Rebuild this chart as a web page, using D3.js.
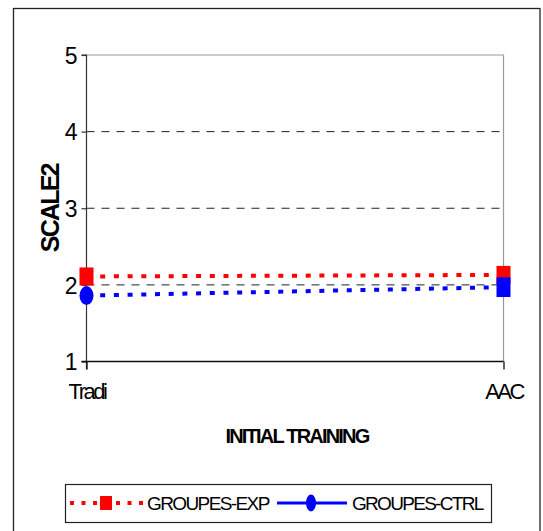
<!DOCTYPE html>
<html>
<head>
<meta charset="utf-8">
<script src="https://cdn.jsdelivr.net/npm/d3@7/dist/d3.min.js"></script>
<style>
  html, body { margin: 0; padding: 0; background: #fff; }
  svg { display: block; font-family: "Liberation Sans", Arial, sans-serif; }
</style>
</head>
<body>
<svg id="chart" width="543" height="531"></svg>
<script>
// Training type categories and mean SCALE2 scores per group
const categories = ["Tradi", "AAC"];
const groupesExp = [2.11, 2.13];
const groupesCtrl = [1.86, 1.97];
const ctrlMarkers = ["ellipse", "rect"];
const yTicks = [1, 2, 3, 4, 5];
const seriesNames = ["GROUPES-EXP", "GROUPES-CTRL"];

const svg = d3.select("#chart");

// outer frame
svg.append("rect")
  .attr("x", 13.5).attr("y", 8.5)
  .attr("width", 526.5).attr("height", 530)
  .attr("fill", "none").attr("stroke", "#222").attr("stroke-width", 1.3);

const plot = { left: 86.5, right: 503.5, top: 55, bottom: 361.5 };

const x = d3.scalePoint().domain(categories).range([plot.left, plot.right]);
const y = d3.scaleLinear().domain([1, 5]).range([plot.bottom, plot.top]);

// dashed gridlines
svg.append("g")
  .selectAll("line")
  .data(yTicks.filter(t => t > 1 && t < 5))
  .join("line")
  .attr("x1", plot.left).attr("x2", plot.right)
  .attr("y1", d => y(d)).attr("y2", d => y(d))
  .attr("stroke", "#222").attr("stroke-width", 1)
  .attr("stroke-dasharray", "8,7");

// top and right frame of the plot area
svg.append("path")
  .attr("d", `M${plot.left},${y(5)}H${plot.right}V${plot.bottom}`)
  .attr("fill", "none").attr("stroke", "#999").attr("stroke-width", 1.2);

// y axis
const yAxis = svg.append("g")
  .attr("transform", `translate(${plot.left},0)`)
  .call(d3.axisLeft(y).tickValues(yTicks).tickSize(5).tickPadding(4).tickFormat(d3.format("d")));
yAxis.select(".domain").attr("stroke", "#333").attr("stroke-width", 1.2)
  .attr("d", `M-5,${y(5)}H0V${plot.bottom + 8}`);
yAxis.selectAll(".tick line").attr("stroke", "#333").attr("stroke-width", 1.2);
yAxis.selectAll(".tick text")
  .attr("fill", "#000").attr("font-size", 23)
  .attr("font-family", "Liberation Sans, Arial, sans-serif")
  .attr("dy", "0.36em");

// x axis
const xAxis = svg.append("g")
  .attr("transform", `translate(0,${plot.bottom})`)
  .call(d3.axisBottom(x).tickSize(8).tickPadding(14));
xAxis.select(".domain").attr("stroke", "#111").attr("stroke-width", 1.3)
  .attr("d", `M${plot.left - 5},0H${plot.right}`);
xAxis.selectAll(".tick line").attr("stroke", "#111").attr("stroke-width", 1.3);
xAxis.selectAll(".tick text")
  .attr("fill", "#000").attr("font-size", 22)
  .attr("font-family", "Liberation Sans, Arial, sans-serif")
  .attr("letter-spacing", "-2.5px");

// axis titles
svg.append("text")
  .attr("transform", `translate(59,${(plot.top + plot.bottom) / 2}) rotate(-90)`)
  .attr("text-anchor", "middle")
  .attr("font-size", 25).attr("font-weight", "bold")
  .attr("letter-spacing", "-1.8px")
  .text("SCALE2");

svg.append("text")
  .attr("x", 297).attr("y", 443)
  .attr("text-anchor", "middle")
  .attr("font-size", 20).attr("font-weight", "bold")
  .attr("letter-spacing", "-1.8px")
  .text("INITIAL TRAINING");

// series lines
const line = d3.line().x((d, i) => x(categories[i])).y(d => y(d));

svg.append("path").datum(groupesExp)
  .attr("d", line)
  .attr("fill", "none").attr("stroke", "#ff0000").attr("stroke-width", 4)
  .attr("stroke-dasharray", "5,8.7");

svg.append("path").datum(groupesCtrl)
  .attr("d", line)
  .attr("fill", "none").attr("stroke", "#0000ff").attr("stroke-width", 4)
  .attr("stroke-dasharray", "5,8.7");

// markers
svg.append("g").selectAll("rect")
  .data(groupesExp)
  .join("rect")
  .attr("x", (d, i) => x(categories[i]) - 7)
  .attr("y", d => y(d) - 9)
  .attr("width", 14).attr("height", 18)
  .attr("fill", "#ff0000");

const ctrlG = svg.append("g");
groupesCtrl.forEach((d, i) => {
  if (ctrlMarkers[i] === "ellipse") {
    ctrlG.append("ellipse")
      .attr("cx", x(categories[i])).attr("cy", y(d))
      .attr("rx", 7).attr("ry", 9.5)
      .attr("fill", "#0000ff");
  } else {
    ctrlG.append("rect")
      .attr("x", x(categories[i]) - 7).attr("y", y(d) - 9.8)
      .attr("width", 14).attr("height", 19.6)
      .attr("fill", "#0000ff");
  }
});

// legend
const legend = svg.append("g");
legend.append("rect")
  .attr("x", 65.5).attr("y", 484.5)
  .attr("width", 426).attr("height", 38)
  .attr("fill", "#fff").attr("stroke", "#222").attr("stroke-width", 1.2);

const ly = 503;
legend.append("line")
  .attr("x1", 70).attr("x2", 143).attr("y1", ly).attr("y2", ly)
  .attr("stroke", "#ff0000").attr("stroke-width", 4)
  .attr("stroke-dasharray", "4,7.5");
legend.append("rect")
  .attr("x", 100).attr("y", ly - 7).attr("width", 12).attr("height", 14)
  .attr("fill", "#ff0000");
legend.append("text")
  .attr("x", 147).attr("y", ly + 7)
  .attr("font-size", 19).attr("letter-spacing", "-1.6px")
  .text(seriesNames[0]);

legend.append("line")
  .attr("x1", 277).attr("x2", 347).attr("y1", ly).attr("y2", ly)
  .attr("stroke", "#0000ff").attr("stroke-width", 3);
legend.append("ellipse")
  .attr("cx", 311).attr("cy", ly).attr("rx", 5).attr("ry", 8.5)
  .attr("fill", "#0000ff");
legend.append("text")
  .attr("x", 352).attr("y", ly + 7)
  .attr("font-size", 19).attr("letter-spacing", "-1.7px")
  .text(seriesNames[1]);
</script>
</body>
</html>
